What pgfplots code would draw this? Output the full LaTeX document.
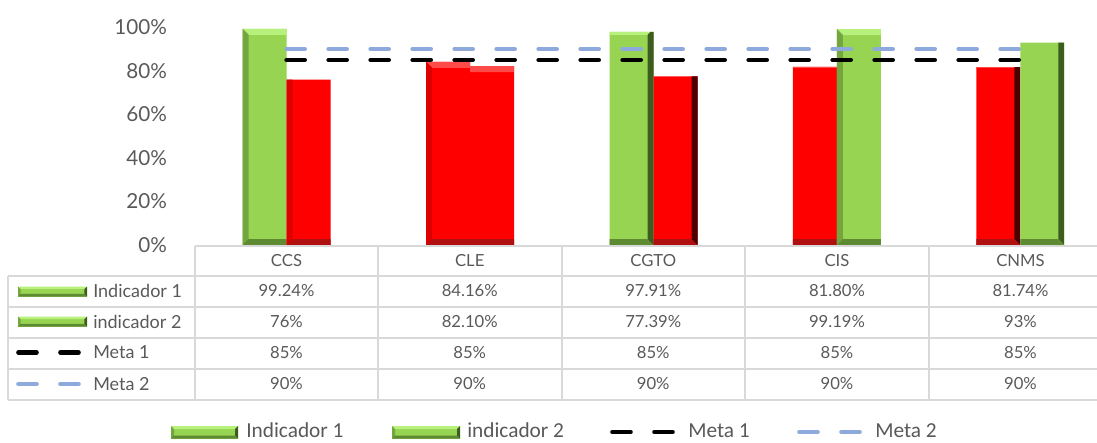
\documentclass[border=0pt]{standalone}
\usepackage{pgfplots}
\pgfplotsset{compat=1.18}
\usepackage{pgfplotstable}
\usepackage{fontspec}
\setmainfont{Lato}
\newfontfamily\legfont{Carlito}
\definecolor{txt}{HTML}{595959}
\definecolor{gridc}{HTML}{D9D9D9}
\definecolor{gbody}{HTML}{96D452}
\definecolor{gtop}{HTML}{B8F07C}
\definecolor{gleft}{HTML}{74A640}
\definecolor{gright}{HTML}{3D5C1F}
\definecolor{gbottom}{HTML}{5E8A32}
\definecolor{rbody}{HTML}{FF0000}
\definecolor{rtop}{HTML}{FF4A4A}
\definecolor{rleft}{HTML}{DC0000}
\definecolor{rright}{HTML}{4A0000}
\definecolor{rbottom}{HTML}{B01010}
\definecolor{metab}{HTML}{8EA9DB}

\tikzset{
  bevel/.style n args={6}{draw=none, fill=#1, path picture={
    \fill[#2, path picture={}] (path picture bounding box.north west) -- (path picture bounding box.north east)
      -- ([xshift=-#6,yshift=-#6]path picture bounding box.north east)
      -- ([xshift=#6,yshift=-#6]path picture bounding box.north west) -- cycle;
    \fill[#3, path picture={}] (path picture bounding box.north west) -- ([xshift=#6,yshift=-#6]path picture bounding box.north west)
      -- ([xshift=#6,yshift=#6]path picture bounding box.south west) -- (path picture bounding box.south west) -- cycle;
    \fill[#4, path picture={}] (path picture bounding box.north east) -- ([xshift=-#6,yshift=-#6]path picture bounding box.north east)
      -- ([xshift=-#6,yshift=#6]path picture bounding box.south east) -- (path picture bounding box.south east) -- cycle;
    \fill[#5, path picture={}] (path picture bounding box.south west) -- (path picture bounding box.south east)
      -- ([xshift=-#6,yshift=#6]path picture bounding box.south east)
      -- ([xshift=#6,yshift=#6]path picture bounding box.south west) -- cycle;
  }},
  greenbar/.style={bevel={gbody}{gtop}{gleft}{gright}{gbottom}{#1}},
  redbar/.style={bevel={rbody}{rtop}{rleft}{rright}{rbottom}{#1}},
  metaline/.style={line width=3.5pt, line cap=round, dash pattern=on 13.5pt off 18pt},
}

\pgfplotstableread{
x meta1 meta2
0 85 90
1 85 90
2 85 90
3 85 90
4 85 90
}\metas
% Indicador 1
\pgfplotstableread{
x y
0 99.24
2 97.91
}\indAgreen
\pgfplotstableread{
x y
1 84.16
3 81.80
4 81.74
}\indAred
% indicador 2
\pgfplotstableread{
x y
3 99.19
4 93
}\indBgreen
\pgfplotstableread{
x y
0 76
1 82.10
2 77.39
}\indBred

\begin{document}
\begin{tikzpicture}
\useasboundingbox (0pt,0pt) rectangle (822.75pt,-332.25pt);
\begin{axis}[
  at={(146.25pt,-183.75pt)}, anchor=south west,
  scale only axis, width=687.75pt, height=163.3pt,
  xmin=-0.5, xmax=4.5, ymin=0, ymax=100,
  axis x line=none, axis y line=left,
  axis line style={draw=none}, ytick style={draw=none},
  ytick={0,20,40,60,80,100},
  yticklabel={\pgfmathprintnumber{\tick}\%},
  /pgf/number format/assume math mode=true,
  yticklabel style={font=\fontsize{15.5pt}{18pt}\selectfont, text=txt, anchor=east, inner sep=0pt, xshift=-18.75pt},
  clip=false,
]
\addplot[ybar, bar width=33pt, bar shift=-16.5pt, greenbar=4.5pt] table[x=x,y=y]{\indAgreen};
\addplot[ybar, bar width=33pt, bar shift=-16.5pt, redbar=4.5pt] table[x=x,y=y]{\indAred};
\addplot[ybar, bar width=33pt, bar shift=16.5pt, greenbar=4.5pt] table[x=x,y=y]{\indBgreen};
\addplot[ybar, bar width=33pt, bar shift=16.5pt, redbar=4.5pt] table[x=x,y=y]{\indBred};
\addplot[metaline, black, mark=none] table[x=x,y=meta1]{\metas};
\addplot[metaline, metab, mark=none] table[x=x,y=meta2]{\metas};
\end{axis}

\begin{scope}[x=0.75pt,y=-0.75pt]
  \clip (0,0) rectangle (1097,443);
  \begin{scope}[draw=gridc, line width=1.5pt]
    \draw (195,246) -- (1112,246);
    \foreach \yy in {276,306.5,337.5,368.5,399.5} \draw (8,\yy) -- (1112,\yy);
    \draw (8,276) -- (8,399.5);
    \foreach \xx in {195,378,561.5,745,929,1112} \draw (\xx,246) -- (\xx,399.5);
  \end{scope}
  \begin{scope}[every node/.style={text=txt, font=\fontsize{12.5pt}{15pt}\selectfont, inner sep=0pt}]
    % header
    \node at (286.5,261) {CCS};
    \node at (469.75,261) {CLE};
    \node at (653.25,261) {CGTO};
    \node at (837,261) {CIS};
    \node at (1020.5,261) {CNMS};
    % rows
    \node[anchor=west, font=\fontsize{13.5pt}{15pt}\selectfont] at (93,291) {Indicador 1};
    \node[anchor=west, font=\fontsize{13.5pt}{15pt}\selectfont] at (93,321.5) {indicador 2};
    \node[anchor=west, font=\fontsize{13.5pt}{15pt}\selectfont] at (93,352.5) {Meta 1};
    \node[anchor=west, font=\fontsize{13.5pt}{15pt}\selectfont] at (93,384) {Meta 2};
    \foreach \xx/\a/\b in {286.5/99.24\%/76\%, 469.75/84.16\%/82.10\%, 653.25/97.91\%/77.39\%, 837/81.80\%/99.19\%, 1020.5/81.74\%/93\%}{
      \node at (\xx,291) {\a};
      \node at (\xx,321.5) {\b};
      \node at (\xx,352.5) {85\%};
      \node at (\xx,384) {90\%};
    }
  \end{scope}
  % table legend keys
  \path[greenbar=2pt] (18,286.5) rectangle (87,296.5);
  \path[greenbar=2pt] (18,316.5) rectangle (87,326.5);
  \draw[metaline, black] (18.5,352.5) -- (80,352.5);
  \draw[metaline, metab] (18.5,384) -- (80,384);
  % bottom legend
  \path[greenbar=2.25pt] (171,426) rectangle (238,438.5);
  \node[anchor=west, inner sep=0pt, text=txt, font=\legfont\fontsize{16pt}{19pt}\selectfont] at (246,430.5) {Indicador 1};
  \path[greenbar=2.25pt] (392,426) rectangle (460,438.5);
  \node[anchor=west, inner sep=0pt, text=txt, font=\legfont\fontsize{16pt}{19pt}\selectfont] at (467,430.5) {indicador 2};
  \draw[metaline, black] (612.5,432) -- (675,432);
  \node[anchor=west, inner sep=0pt, text=txt, font=\legfont\fontsize{16pt}{19pt}\selectfont] at (688,430.5) {Meta 1};
  \draw[metaline, metab] (799.5,432) -- (862,432);
  \node[anchor=west, inner sep=0pt, text=txt, font=\legfont\fontsize{16pt}{19pt}\selectfont] at (875,430.5) {Meta 2};
\end{scope}
\end{tikzpicture}
\end{document}
